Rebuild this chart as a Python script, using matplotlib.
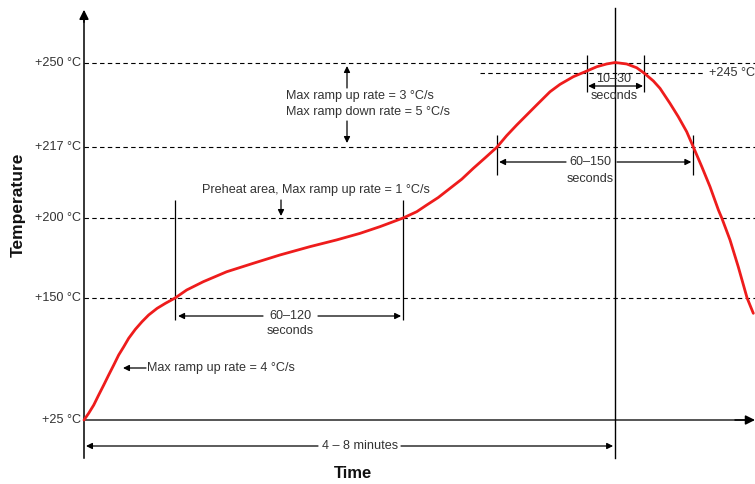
import matplotlib
matplotlib.use("Agg")
import matplotlib.pyplot as plt
import numpy as np

# reflow profile (time in s, temperature in degC)
time_s = [0, 2.1, 4.4, 6.6, 8.9, 11.1, 13.4, 15.6, 17.9, 20.1, 23.1, 26.1, 29.1,
          32.9, 36.6, 41, 46.2, 53.7, 64.2, 76.2, 88.2, 101.7, 113.7, 124.2,
          133.2, 143.6, 149.7, 154.2, 159.4, 164.7, 170, 175.2, 180.5, 185.9,
          190.2, 194.7, 199.2, 203.7, 209.7, 214.2, 220.2, 225.5, 230.8, 235.2,
          239, 244.2, 248.7, 252, 256.2, 259.2, 263.7, 267.4, 271.2, 274.2, 278,
          281.7, 285.5, 287, 290.7, 294.4, 298.4, 301.2]
temp_c = [25, 31.9, 40.4, 50.6, 60.9, 71.1, 81.4, 91.6, 100.1, 108.7, 117.9,
          125.7, 132.6, 139.4, 144.5, 150, 155, 160.2, 166.4, 171.7, 176.9, 182.1,
          186.3, 190.4, 194.6, 200, 201.5, 203.1, 204.9, 207.1, 209.3, 211.9,
          214.4, 217, 221.3, 225.3, 229.1, 232.9, 237.9, 240.7, 243.6, 245.6,
          248.0, 249.3, 250, 249.3, 247.5, 245, 242.0, 239.2, 233.5, 228.5, 222.8,
          217, 212.3, 207.5, 201.9, 200, 186.3, 169.6, 150, 134.3]

levels = [25, 150, 200, 217, 250]
level_labels = ["+25 °C", "+150 °C", "+200 °C", "+217 °C", "+250 °C"]
level_245 = 245

t_150_up = 41
t_200_up = 143.6
t_217_up = 185.9
t_245_up = 226.4
t_peak = 239
t_245_down = 252
t_217_down = 274.2

# schematic (non linear) temperature axis
T_lv = [-75, 25, 150, 200, 217, 245, 250, 300]
pos_lv = [-34, 64, 186, 266, 337, 411, 421.5, 521.5]


def fwd(T):
    return np.interp(T, T_lv, pos_lv)


def inv(p):
    return np.interp(p, pos_lv, T_lv)


# helpers to place annotations in picture pixels
def px(x):
    return (x - 84) * 0.45


def py(y):
    return float(inv(484 - y))


plt.rcParams['font.family'] = ['Liberation Sans', 'DejaVu Sans']
fig = plt.figure(figsize=(7.55, 4.84), dpi=100)
ax = fig.add_axes([0, 0, 1, 1])
ax.set_yscale('function', functions=(fwd, inv))
ax.set_xlim(px(0), px(755))
ax.set_ylim(py(484), py(0))
ax.axis('off')

txt = '#333333'
fs = 9.1

# dashed levels
ax.hlines(levels[1:], 0, px(755), colors='k', linestyles=(0, (4, 3)), lw=0.8)
ax.hlines(level_245, px(480), px(705), colors='k', linestyles=(0, (4, 3)), lw=0.8)
for v, lab in zip(levels, level_labels):
    ax.text(px(81), v, lab, ha='right', va='center', fontsize=fs, color=txt)
ax.text(px(709), level_245, "+245 °C", ha='left', va='center', fontsize=fs, color=txt)

# axes with arrows
ax.plot([0, 0], [py(458), py(20)], color='k', lw=1.1)
ax.annotate('', xy=(0, py(7)), xytext=(0, py(25)), annotation_clip=False,
            arrowprops=dict(arrowstyle='-|>', color='k', lw=1.1, mutation_scale=14))
ax.plot([0, px(745)], [25, 25], color='#555555', lw=1.4)
ax.annotate('', xy=(px(755), 25), xytext=(px(735), 25), annotation_clip=False,
            arrowprops=dict(arrowstyle='-|>', color='k', lw=1.1, mutation_scale=14,
                            shrinkA=0, shrinkB=0))
ax.plot([t_peak, t_peak], [py(458), py(8)], color='k', lw=1)

# vertical markers
ax.vlines([t_150_up, t_200_up], py(320), py(200), colors='k', lw=0.9)
ax.vlines([t_217_up, t_217_down], py(175), py(135), colors='k', lw=0.9)
ax.vlines([t_245_up, t_245_down], py(92), py(55), colors='k', lw=0.9)

# profile curve
ax.plot(time_s, temp_c, color='#ee1c1c', lw=2, solid_capstyle='round',
        solid_joinstyle='round')

ap = dict(arrowstyle='-|>', color='k', lw=0.9, mutation_scale=9, shrinkA=0, shrinkB=0)


def dim(y, x0, x1, xa, xb):
    # arrow pair with a gap for the label
    ax.annotate('', xy=(x0, y), xytext=(xa, y), arrowprops=ap)
    ax.annotate('', xy=(x1, y), xytext=(xb, y), arrowprops=ap)


y = py(316)
dim(y, t_150_up + px(87), t_200_up - px(86), px(263), px(318))
ax.text(px(290), y, "60–120", ha='center', va='center', fontsize=fs, color=txt)
ax.text(px(290), py(331), "seconds", ha='center', va='center', fontsize=fs, color=txt)

y = py(162)
dim(y, t_217_up + px(86), t_217_down - px(86), px(566), px(617))
ax.text(px(590), y, "60–150", ha='center', va='center', fontsize=fs, color=txt)
ax.text(px(590), py(179), "seconds", ha='center', va='center', fontsize=fs, color=txt)

y = py(86)
ax.annotate('', xy=(t_245_up + px(85), y), xytext=(t_245_down - px(85), y),
            arrowprops=dict(ap, arrowstyle='<|-|>'))
ax.text(px(614), py(79), "10–30", ha='center', va='center', fontsize=fs, color=txt)
ax.text(px(614), py(96), "seconds", ha='center', va='center', fontsize=fs, color=txt)

y = py(446)
dim(y, px(86), t_peak - px(86), px(318), px(401))
ax.text(px(360), y, "4 – 8 minutes", ha='center', va='center', fontsize=fs, color=txt)

# notes
ax.annotate('', xy=(px(123), py(368)), xytext=(px(146), py(368)), arrowprops=ap)
ax.text(px(147), py(368), "Max ramp up rate = 4 °C/s", ha='left', va='center',
        fontsize=fs, color=txt)

ax.text(px(202), py(190), "Preheat area, Max ramp up rate = 1 °C/s", ha='left',
        va='center', fontsize=fs, color=txt)
ax.annotate('', xy=(px(281), py(216)), xytext=(px(281), py(200)), arrowprops=ap)

ax.annotate('', xy=(px(347), py(66)), xytext=(px(347), py(88)), arrowprops=ap)
ax.annotate('', xy=(px(347), py(143)), xytext=(px(347), py(121)), arrowprops=ap)
ax.text(px(286), py(96), "Max ramp up rate = 3 °C/s", ha='left', va='center',
        fontsize=fs, color=txt)
ax.text(px(286), py(112), "Max ramp down rate = 5 °C/s", ha='left', va='center',
        fontsize=fs, color=txt)

ax.text(px(18), py(205), "Temperature", rotation=90, ha='center', va='center',
        fontsize=12.5, fontweight='bold', color='#111111')
ax.text(px(353), py(474), "Time", ha='center', va='center',
        fontsize=12, fontweight='bold', color='#111111')

fig.savefig('out.png', dpi=100)
